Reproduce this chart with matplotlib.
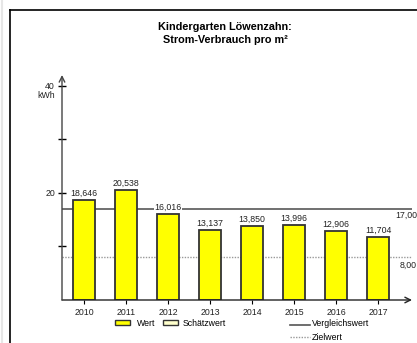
import matplotlib
matplotlib.use("Agg")
import matplotlib.pyplot as plt
from matplotlib.lines import Line2D
from matplotlib.patches import Rectangle

years = ["2010", "2011", "2012", "2013", "2014", "2015", "2016", "2017"]
values = [18.646, 20.538, 16.016, 13.137, 13.850, 13.996, 12.906, 11.704]
vergleichswert = 17.0
zielwert = 8.0

plt.rcParams['font.family'] = ['Liberation Sans', 'DejaVu Sans']

W, H = 417, 343
fig = plt.figure(figsize=(W / 100, H / 100), dpi=100)

# axes placed in pixel units
x0, x1 = 62, 412
y0, y1 = 300, 75
ax = fig.add_axes([x0 / W, (H - y0) / H, (x1 - x0) / W, (y0 - y1) / H])
ax.set_xlim(-0.524, 7.81)
ax.set_ylim(0, 42)
for s in ax.spines.values():
    s.set_visible(False)

xs = list(range(len(years)))
ax.bar(xs, values, width=0.54, color="#ffff00", edgecolor="#333333",
       linewidth=1.3, zorder=3)

for x, v in zip(xs, values):
    ax.annotate(f"{v:.3f}".replace(".", ","), (x, v), xytext=(0, 1.5),
                textcoords="offset points", ha="center", va="bottom",
                fontsize=6.3, color="#222222", zorder=5,
                bbox=dict(facecolor="white", edgecolor="none", pad=0.3))

# reference lines
ax.axhline(vergleichswert, color="#707070", lw=1.4, zorder=2)
ax.axhline(zielwert, color="#999999", lw=1, ls=(0, (1, 1)), zorder=2)
ax.annotate("17,00", xy=(1, vergleichswert), xycoords=("axes fraction", "data"),
            xytext=(-12, -1.5), textcoords="offset points", ha="left", va="top",
            fontsize=6.3, color="#222222", annotation_clip=False)
ax.annotate("8,00", xy=(1, zielwert), xycoords=("axes fraction", "data"),
            xytext=(-9, -3), textcoords="offset points", ha="left", va="top",
            fontsize=6.3, color="#222222", annotation_clip=False)

# axis lines with arrows
ax.annotate("", xy=(1.0, 0), xytext=(0, 0), xycoords="axes fraction",
            arrowprops=dict(arrowstyle="->", lw=1, color="#222222",
                            shrinkA=0, shrinkB=0), zorder=4)
ax.annotate("", xy=(0, 1.0), xytext=(0, 0), xycoords="axes fraction",
            arrowprops=dict(arrowstyle="->", lw=1, color="#444444",
                            shrinkA=0, shrinkB=0), zorder=4)

ax.set_xticks(xs)
ax.set_xticklabels(years, fontsize=6.3, color="#222222")
ax.tick_params(axis="x", direction="out", length=3, width=0.8, pad=3)
ax.set_yticks([20, 40])
ax.set_yticklabels(["20", "40"], fontsize=6.3, color="#222222")
ax.set_yticks([10, 30], minor=True)
ax.tick_params(axis="y", which="both", direction="inout", length=6, width=1, pad=2)
ax.text(-0.02, 38.2, "kWh", transform=ax.get_yaxis_transform(), ha="right",
        va="center", fontsize=6.3, color="#222222")

# title
fig.text(225 / W, 1 - 27 / H, "Kindergarten Löwenzahn:", ha="center",
         va="center", fontsize=7.8, fontweight="bold")
fig.text(225 / W, 1 - 40 / H, "Strom-Verbrauch pro m²", ha="center",
         va="center", fontsize=7.8, fontweight="bold")

# frame
fig.add_artist(Line2D([9.5 / W, 9.5 / W], [0, 1 - 9.5 / H], color="black", lw=1.2))
fig.add_artist(Line2D([9.5 / W, 1], [1 - 9.5 / H, 1 - 9.5 / H], color="black", lw=1.2))
fig.add_artist(Line2D([2 / W, 2 / W], [0, 1], color="#e6e6e6", lw=1.5))

# legend
def swatch(px, py, fc):
    fig.add_artist(Rectangle((px / W, 1 - (py + 3) / H), 15 / W, 5 / H,
                             facecolor=fc, edgecolor="#333333", lw=1))

swatch(115, 322, "#ffff00")
fig.text(137 / W, 1 - 324 / H, "Wert", fontsize=6.3, va="center")
swatch(163, 322, "#ffffcc")
fig.text(183 / W, 1 - 324 / H, "Schätzwert", fontsize=6.3, va="center")
fig.add_artist(Line2D([290 / W, 310 / W], [1 - 325 / H] * 2, color="#555555", lw=1.2))
fig.text(312 / W, 1 - 324 / H, "Vergleichswert", fontsize=6.3, va="center")
fig.add_artist(Line2D([290 / W, 310 / W], [1 - 337 / H] * 2, color="#999999", lw=1,
                      ls=(0, (1, 1))))
fig.text(312 / W, 1 - 337 / H, "Zielwert", fontsize=6.3, va="center")

fig.savefig("out.png", dpi=100)
